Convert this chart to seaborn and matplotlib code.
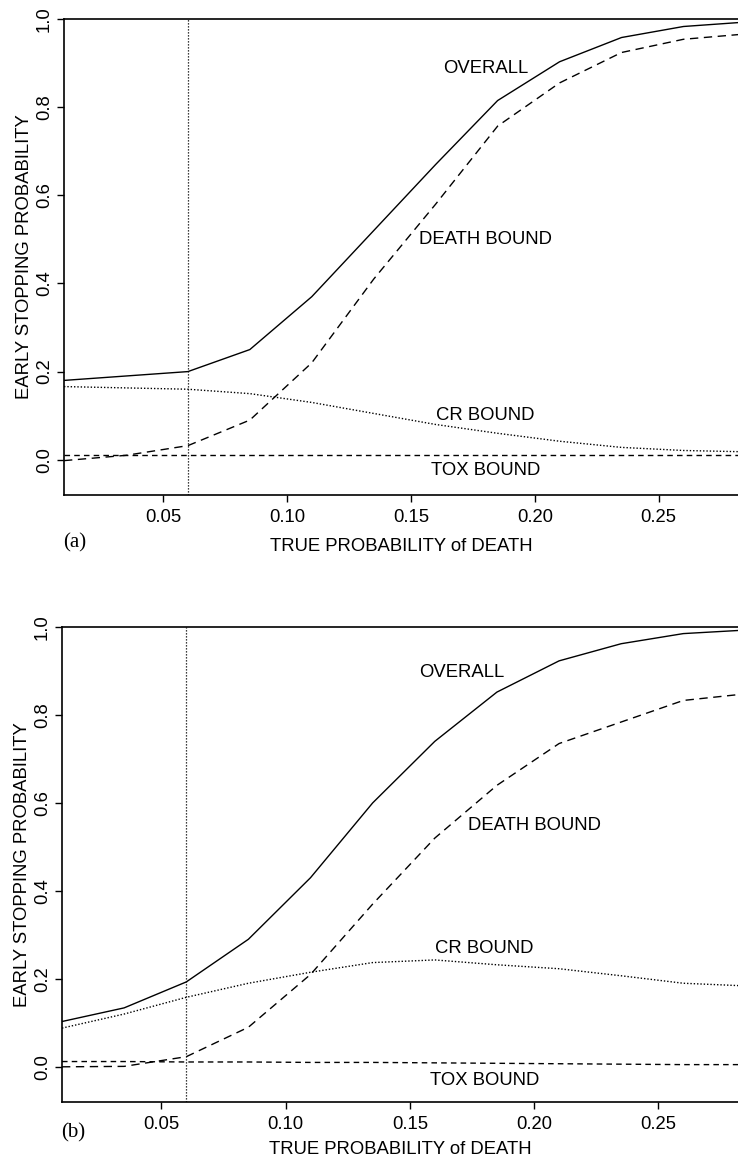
import numpy as np
import pandas as pd
import seaborn as sns
import matplotlib.pyplot as plt

# true probability of death grid
p_death = [0.01, 0.035, 0.06, 0.085, 0.11, 0.135, 0.16, 0.185, 0.21, 0.235, 0.26, 0.285]

# panel (a)
overall_a = [0.18, 0.19, 0.20, 0.25, 0.37, 0.52, 0.67, 0.815, 0.903, 0.958, 0.983, 0.993]
death_a = [-0.002, 0.01, 0.032, 0.09, 0.22, 0.41, 0.58, 0.757, 0.855, 0.924, 0.954, 0.966]
cr_a = [0.166, 0.163, 0.16, 0.15, 0.13, 0.105, 0.08, 0.06, 0.042, 0.028, 0.021, 0.018]
tox_a = [0.01] * 12

# panel (b)
overall_b = [0.103, 0.134, 0.193, 0.29, 0.43, 0.60, 0.74, 0.852, 0.923, 0.962, 0.985, 0.993]
death_b = [0.0, 0.001, 0.023, 0.09, 0.21, 0.37, 0.52, 0.64, 0.735, 0.784, 0.833, 0.848]
cr_b = [0.088, 0.12, 0.158, 0.19, 0.215, 0.237, 0.243, 0.232, 0.223, 0.207, 0.19, 0.184]
tox_b = [0.012, 0.012, 0.011, 0.011, 0.010, 0.010, 0.009, 0.008, 0.007, 0.006, 0.005, 0.005]

series_names = ["OVERALL", "DEATH BOUND", "CR BOUND", "TOX BOUND"]
styles = {
    "OVERALL": "-",
    "DEATH BOUND": (0, (6, 4)),
    "CR BOUND": (0, (1, 1.4)),
    "TOX BOUND": (0, (4, 3)),
}

# label anchor positions (x, y) in data units
labels_a = {"OVERALL": (0.18, 0.888), "DEATH BOUND": (0.18, 0.50),
            "CR BOUND": (0.18, 0.10), "TOX BOUND": (0.18, -0.024)}
labels_b = {"OVERALL": (0.171, 0.897), "DEATH BOUND": (0.20, 0.549),
            "CR BOUND": (0.18, 0.268), "TOX BOUND": (0.18, -0.030)}

FS = 13.3

sns.set_style("ticks")
plt.rcParams['font.family'] = ['Liberation Sans', 'DejaVu Sans']
plt.rcParams['text.color'] = 'black'
plt.rcParams['axes.labelcolor'] = 'black'
plt.rcParams['xtick.color'] = 'black'
plt.rcParams['ytick.color'] = 'black'


def draw_panel(ax, curves, labels, tag, tag_y, xpad):
    df = pd.DataFrame({"p": p_death, **dict(zip(series_names, curves))})
    for name in series_names:
        sns.lineplot(data=df, x="p", y=name, ax=ax, color="black", lw=1.0,
                     linestyle=styles[name])
        x, y = labels[name]
        ax.text(x, y, name, ha="center", va="center", fontsize=FS)
    ax.axvline(0.06, color="black", lw=0.9, linestyle=(0, (1, 1.4)))
    ax.set_xlim(0.01, 0.282)
    ax.set_ylim(-0.08, 1.0)
    ax.set_xticks([0.05, 0.10, 0.15, 0.20, 0.25])
    ax.set_xticklabels(["0.05", "0.10", "0.15", "0.20", "0.25"])
    ax.set_yticks([0.0, 0.2, 0.4, 0.6, 0.8, 1.0])
    ax.set_yticklabels(["0.0", "0.2", "0.4", "0.6", "0.8", "1.0"],
                       rotation=90, va="center")
    ax.tick_params(axis="x", labelsize=FS, length=5, width=1, pad=5)
    ax.tick_params(axis="y", labelsize=FS, length=5, width=1, pad=3)
    ax.set_xlabel("TRUE PROBABILITY of DEATH", fontsize=FS, labelpad=xpad)
    ax.set_ylabel("EARLY STOPPING PROBABILITY", fontsize=FS, labelpad=2)
    for side in ["left", "bottom", "top"]:
        ax.spines[side].set_visible(True)
        ax.spines[side].set_color("black")
        ax.spines[side].set_linewidth(1.2)
    ax.spines["right"].set_visible(False)
    ax.text(-0.002, tag_y, tag, transform=ax.transAxes, fontsize=15,
            family="Liberation Serif", ha="left", va="center")


fig = plt.figure(figsize=(7.38, 11.61), dpi=100)
ax_a = fig.add_axes([64 / 738, 1 - 495 / 1161, 1 - 64 / 738, (495 - 19) / 1161])
ax_b = fig.add_axes([62 / 738, 1 - 1102 / 1161, 1 - 62 / 738, (1102 - 627) / 1161])

draw_panel(ax_a, [overall_a, death_a, cr_a, tox_a], labels_a, "(a)", -0.10, 8.5)
draw_panel(ax_b, [overall_b, death_b, cr_b, tox_b], labels_b, "(b)", -0.065, 6)

fig.savefig("out.png", dpi=100)
